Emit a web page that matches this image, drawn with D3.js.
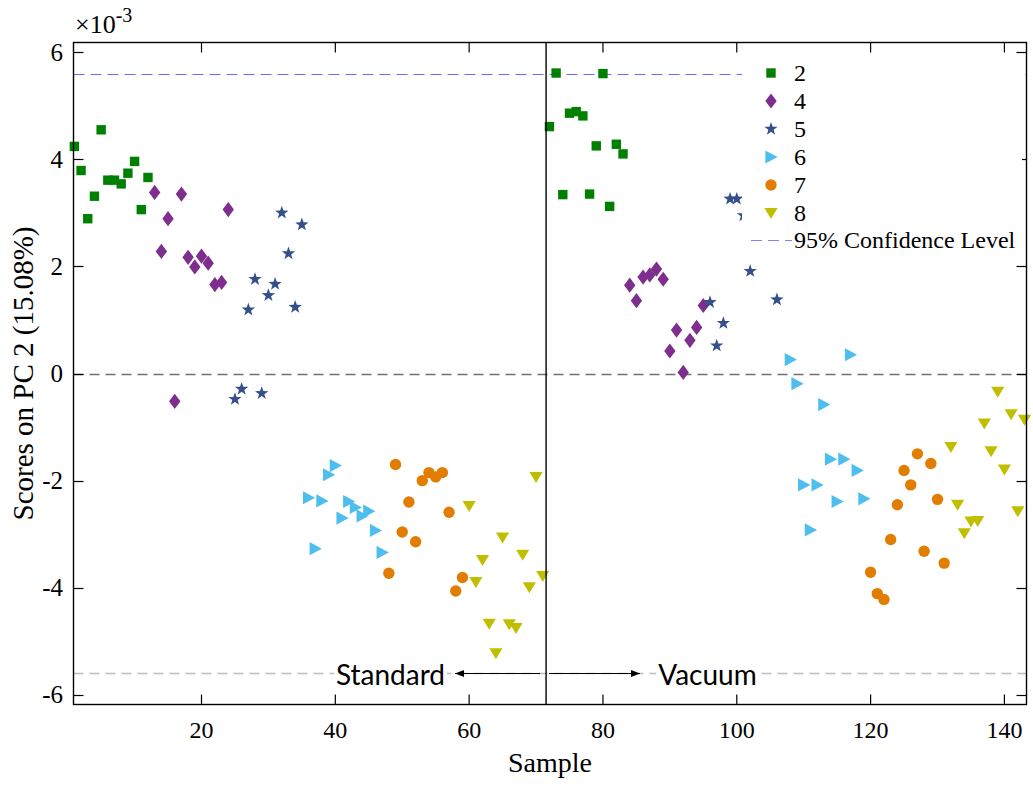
<!DOCTYPE html>
<html>
<head>
<meta charset="utf-8">
<script src="https://cdn.jsdelivr.net/npm/d3@7"></script>
<style>
  html, body { margin: 0; padding: 0; background: #fff; }
  svg { display: block; }
</style>
</head>
<body>
<svg id="chart" width="1033" height="785"></svg>
<script>
// ---------------- data (scores in units of 1e-3) ----------------
const s2Samples = [1,2,3,4,5,6,7,8,9,10,11,12, 72,73,74,75,76,77,78,79,80,81,82,83];
const s2Scores  = [4.24,3.79,2.89,3.31,4.55,3.61,3.61,3.54,3.74,3.96,3.06,3.66, 4.61,5.61,3.34,4.86,4.89,4.81,3.35,4.25,5.60,3.12,4.28,4.10];

const s4Samples = [13,14,15,16,17,18,19,20,21,22,23,24, 84,85,86,87,88,89,90,91,92,93,94,95];
const s4Scores  = [3.38,2.28,2.89,-0.52,3.35,2.17,1.99,2.19,2.06,1.66,1.70,3.06, 1.65,1.36,1.80,1.84,1.95,1.76,0.42,0.81,0.02,0.62,0.86,1.27];

const s5Samples = [25,26,27,28,29,30,31,32,33,34,35, 96,97,98,99,100,101,102,106];
const s5Scores  = [-0.48,-0.29,1.19,1.76,-0.37,1.46,1.67,3.00,2.24,1.24,2.78, 1.33,0.52,0.94,3.26,3.26,2.95,1.91,1.38];

const s6Samples = [36,37,38,39,40,41,42,43,44,45,46,47, 108,109,110,111,112,113,114,115,116,117,118,119];
const s6Scores  = [-2.32,-3.27,-2.38,-1.89,-1.72,-2.70,-2.39,-2.50,-2.66,-2.57,-2.93,-3.34, 0.26,-0.19,-2.08,-2.92,-2.08,-0.58,-1.60,-2.39,-1.60,0.35,-1.81,-2.34];

const s7Samples = [48,49,50,51,52,53,54,55,56,57,58,59, 120,121,122,123,124,125,126,127,128,129,130,131];
const s7Scores  = [-3.73,-1.70,-2.96,-2.40,-3.14,-2.00,-1.85,-1.93,-1.85,-2.59,-4.06,-3.81, -3.71,-4.11,-4.22,-3.10,-2.45,-1.81,-2.08,-1.50,-3.32,-1.68,-2.35,-3.54];

const s8Samples = [60,61,62,63,64,65,66,67,68,69,70,71, 132,133,134,135,136,137,138,139,140,141,142,143];
const s8Scores  = [-2.47,-3.89,-3.48,-4.67,-5.22,-3.06,-4.68,-4.75,-3.38,-3.99,-1.93,-3.78, -1.37,-2.45,-2.98,-2.76,-2.75,-0.93,-1.45,-0.34,-1.79,-0.76,-2.57,-0.86];

const seriesNames = ["2","4","5","6","7","8"];
const confidenceLimit = 5.6;     // 95% confidence level (×1e-3)
const splitSample = 71.5;        // boundary between Standard and Vacuum
const xTicks = [20,40,60,80,100,120,140];
const yTicks = [-6,-4,-2,0,2,4,6];
const xDomain = [0.87, 143.3];
const yDomain = [-6.18, 6.18];

// ---------------- layout ----------------
const svg = d3.select("#chart");
const L = 73.5, R = 1026.5, T = 42.5, B = 704.5;
const x = d3.scaleLinear().domain(xDomain).range([L, R]);
const y = d3.scaleLinear().domain(yDomain).range([B, T]);
const serif = "'Liberation Serif','Times New Roman',serif";
const crisp = v => Math.round(v) + 0.5;

// marker shapes
function starPath(ro, ri) {
  const p = [];
  for (let i = 0; i < 10; i++) {
    const r = i % 2 === 0 ? ro : ri;
    const a = -Math.PI / 2 + i * Math.PI / 5;
    p.push([r * Math.cos(a), r * Math.sin(a)]);
  }
  return "M" + p.map(d => d[0].toFixed(2) + "," + d[1].toFixed(2)).join("L") + "Z";
}
const shapes = {
  "2": { color: "#008000", path: "M-4.7,-4.7L4.7,-4.7L4.7,4.7L-4.7,4.7Z" },
  "4": { color: "#7E2F8E", path: "M0,-7.6L5.7,0L0,7.6L-5.7,0Z" },
  "5": { color: "#34508A", path: starPath(7, 2.8) },
  "6": { color: "#4DBEEE", path: "M-5.6,-6.6L6.6,0L-5.6,6.6Z" },
  "7": { color: "#E17D00", path: null },
  "8": { color: "#BFBF00", path: "M-6.6,-4.9L6.6,-4.9L0,6.1Z" }
};
const seriesData = {
  "2": s2Samples.map((s, i) => [s, s2Scores[i]]),
  "4": s4Samples.map((s, i) => [s, s4Scores[i]]),
  "5": s5Samples.map((s, i) => [s, s5Scores[i]]),
  "6": s6Samples.map((s, i) => [s, s6Scores[i]]),
  "7": s7Samples.map((s, i) => [s, s7Scores[i]]),
  "8": s8Samples.map((s, i) => [s, s8Scores[i]])
};
function drawMarker(g, name, cx, cy) {
  const sh = shapes[name];
  if (sh.path === null) {
    g.append("circle").attr("cx", cx).attr("cy", cy).attr("r", 5.7).attr("fill", sh.color);
  } else {
    g.append("path").attr("d", sh.path).attr("transform", `translate(${cx},${cy})`).attr("fill", sh.color);
  }
}

// ---------------- reference lines ----------------
const lines = svg.append("g");
lines.append("line").attr("x1", L).attr("x2", R).attr("y1", crisp(y(confidenceLimit))).attr("y2", crisp(y(confidenceLimit)))
  .attr("stroke", "#6a6aff").attr("stroke-width", 1).attr("stroke-dasharray", "11,6");
lines.append("line").attr("x1", L).attr("x2", R).attr("y1", crisp(y(0))).attr("y2", crisp(y(0)))
  .attr("stroke", "#707070").attr("stroke-width", 1.3).attr("stroke-dasharray", "10,6");
lines.append("line").attr("x1", L).attr("x2", R).attr("y1", crisp(y(-confidenceLimit))).attr("y2", crisp(y(-confidenceLimit)))
  .attr("stroke", "#bdbdbd").attr("stroke-width", 1.3).attr("stroke-dasharray", "10,6");

// ---------------- points ----------------
const pts = svg.append("g");
seriesNames.forEach(n => {
  seriesData[n].forEach(d => drawMarker(pts, n, x(d[0]), y(d[1])));
});

// vertical split line
svg.append("line").attr("x1", x(splitSample)).attr("x2", x(splitSample)).attr("y1", T).attr("y2", B)
  .attr("stroke", "#000").attr("stroke-width", 1.4);

// ---------------- Standard / Vacuum annotation ----------------
const ay = crisp(y(-confidenceLimit));
const defs = svg.append("defs");
defs.append("marker").attr("id", "ah").attr("viewBox", "0 0 10 10").attr("refX", 10).attr("refY", 5)
  .attr("markerWidth", 9).attr("markerHeight", 9).attr("markerUnits", "userSpaceOnUse").attr("orient", "auto")
  .append("path").attr("d", "M0,1L10,5L0,9Z").attr("fill", "#000");
svg.append("line").attr("x1", x(splitSample) - 6).attr("x2", 455).attr("y1", ay).attr("y2", ay)
  .attr("stroke", "#000").attr("stroke-width", 1).attr("marker-end", "url(#ah)");
svg.append("line").attr("x1", x(splitSample) + 3).attr("x2", 640).attr("y1", ay).attr("y2", ay)
  .attr("stroke", "#000").attr("stroke-width", 1).attr("marker-end", "url(#ah)");
function label(txt, cx) {
  const t = svg.append("text").attr("x", cx).attr("y", ay + 11).attr("text-anchor", "middle")
    .attr("font-family", "Lato, 'Open Sans', sans-serif").attr("font-size", 28).attr("fill", "#000").text(txt);
  const bb = t.node().getBBox();
  svg.insert("rect", () => t.node()).attr("x", bb.x - 2).attr("y", ay - 4).attr("width", bb.width + 4).attr("height", 8).attr("fill", "#fff");
}
label("Standard", 390.5);
label("Vacuum", 707.5);

// ---------------- axes box ----------------
const ax = svg.append("g").attr("font-family", serif).attr("fill", "#000");
ax.append("rect").attr("x", L).attr("y", T).attr("width", R - L).attr("height", B - T)
  .attr("fill", "none").attr("stroke", "#000").attr("stroke-width", 1.4);
xTicks.forEach(v => {
  ax.append("line").attr("x1", x(v)).attr("x2", x(v)).attr("y1", B).attr("y2", B - 10).attr("stroke", "#000").attr("stroke-width", 1.2);
  ax.append("line").attr("x1", x(v)).attr("x2", x(v)).attr("y1", T).attr("y2", T + 10).attr("stroke", "#000").attr("stroke-width", 1.2);
  ax.append("text").attr("x", x(v)).attr("y", 738).attr("text-anchor", "middle").attr("font-size", 24).text(v);
});
yTicks.forEach(v => {
  ax.append("line").attr("x1", L).attr("x2", L + 10).attr("y1", crisp(y(v))).attr("y2", crisp(y(v))).attr("stroke", "#000").attr("stroke-width", 1.2);
  ax.append("line").attr("x1", R).attr("x2", R - 10).attr("y1", crisp(y(v))).attr("y2", crisp(y(v))).attr("stroke", "#000").attr("stroke-width", 1.2);
  ax.append("text").attr("x", 63).attr("y", y(v) + 8.5).attr("text-anchor", "end").attr("font-size", 25).text(v);
});
// exponent
const ex = ax.append("text").attr("x", 75).attr("y", 33).attr("font-size", 26);
ex.append("tspan").text("×10");
ex.append("tspan").attr("dy", -11).attr("font-size", 20).text("-3");

ax.append("text").attr("x", (L + R) / 2).attr("y", 772).attr("text-anchor", "middle").attr("font-size", 28).text("Sample");
ax.append("text").attr("transform", `translate(33,${(T + B) / 2}) rotate(-90)`).attr("text-anchor", "middle")
  .attr("font-size", 29).text("Scores on PC 2 (15.08%)");

// ---------------- legend ----------------
const lg = svg.append("g");
lg.append("rect").attr("x", 742).attr("y", 56).attr("width", 280).attr("height", 196).attr("fill", "#fff");
seriesNames.forEach((n, i) => {
  const cy = 73 + i * 28;
  drawMarker(lg, n, 771, cy);
  lg.append("text").attr("x", 794).attr("y", cy + 8).attr("font-family", serif).attr("font-size", 24).text(n);
});
lg.append("line").attr("x1", 751).attr("x2", 792).attr("y1", 240.5).attr("y2", 240.5)
  .attr("stroke", "#8080ff").attr("stroke-width", 1).attr("stroke-dasharray", "11,6");
lg.append("text").attr("x", 794).attr("y", 248).attr("font-family", serif).attr("font-size", 24).text("95% Confidence Level");
</script>
</body>
</html>
